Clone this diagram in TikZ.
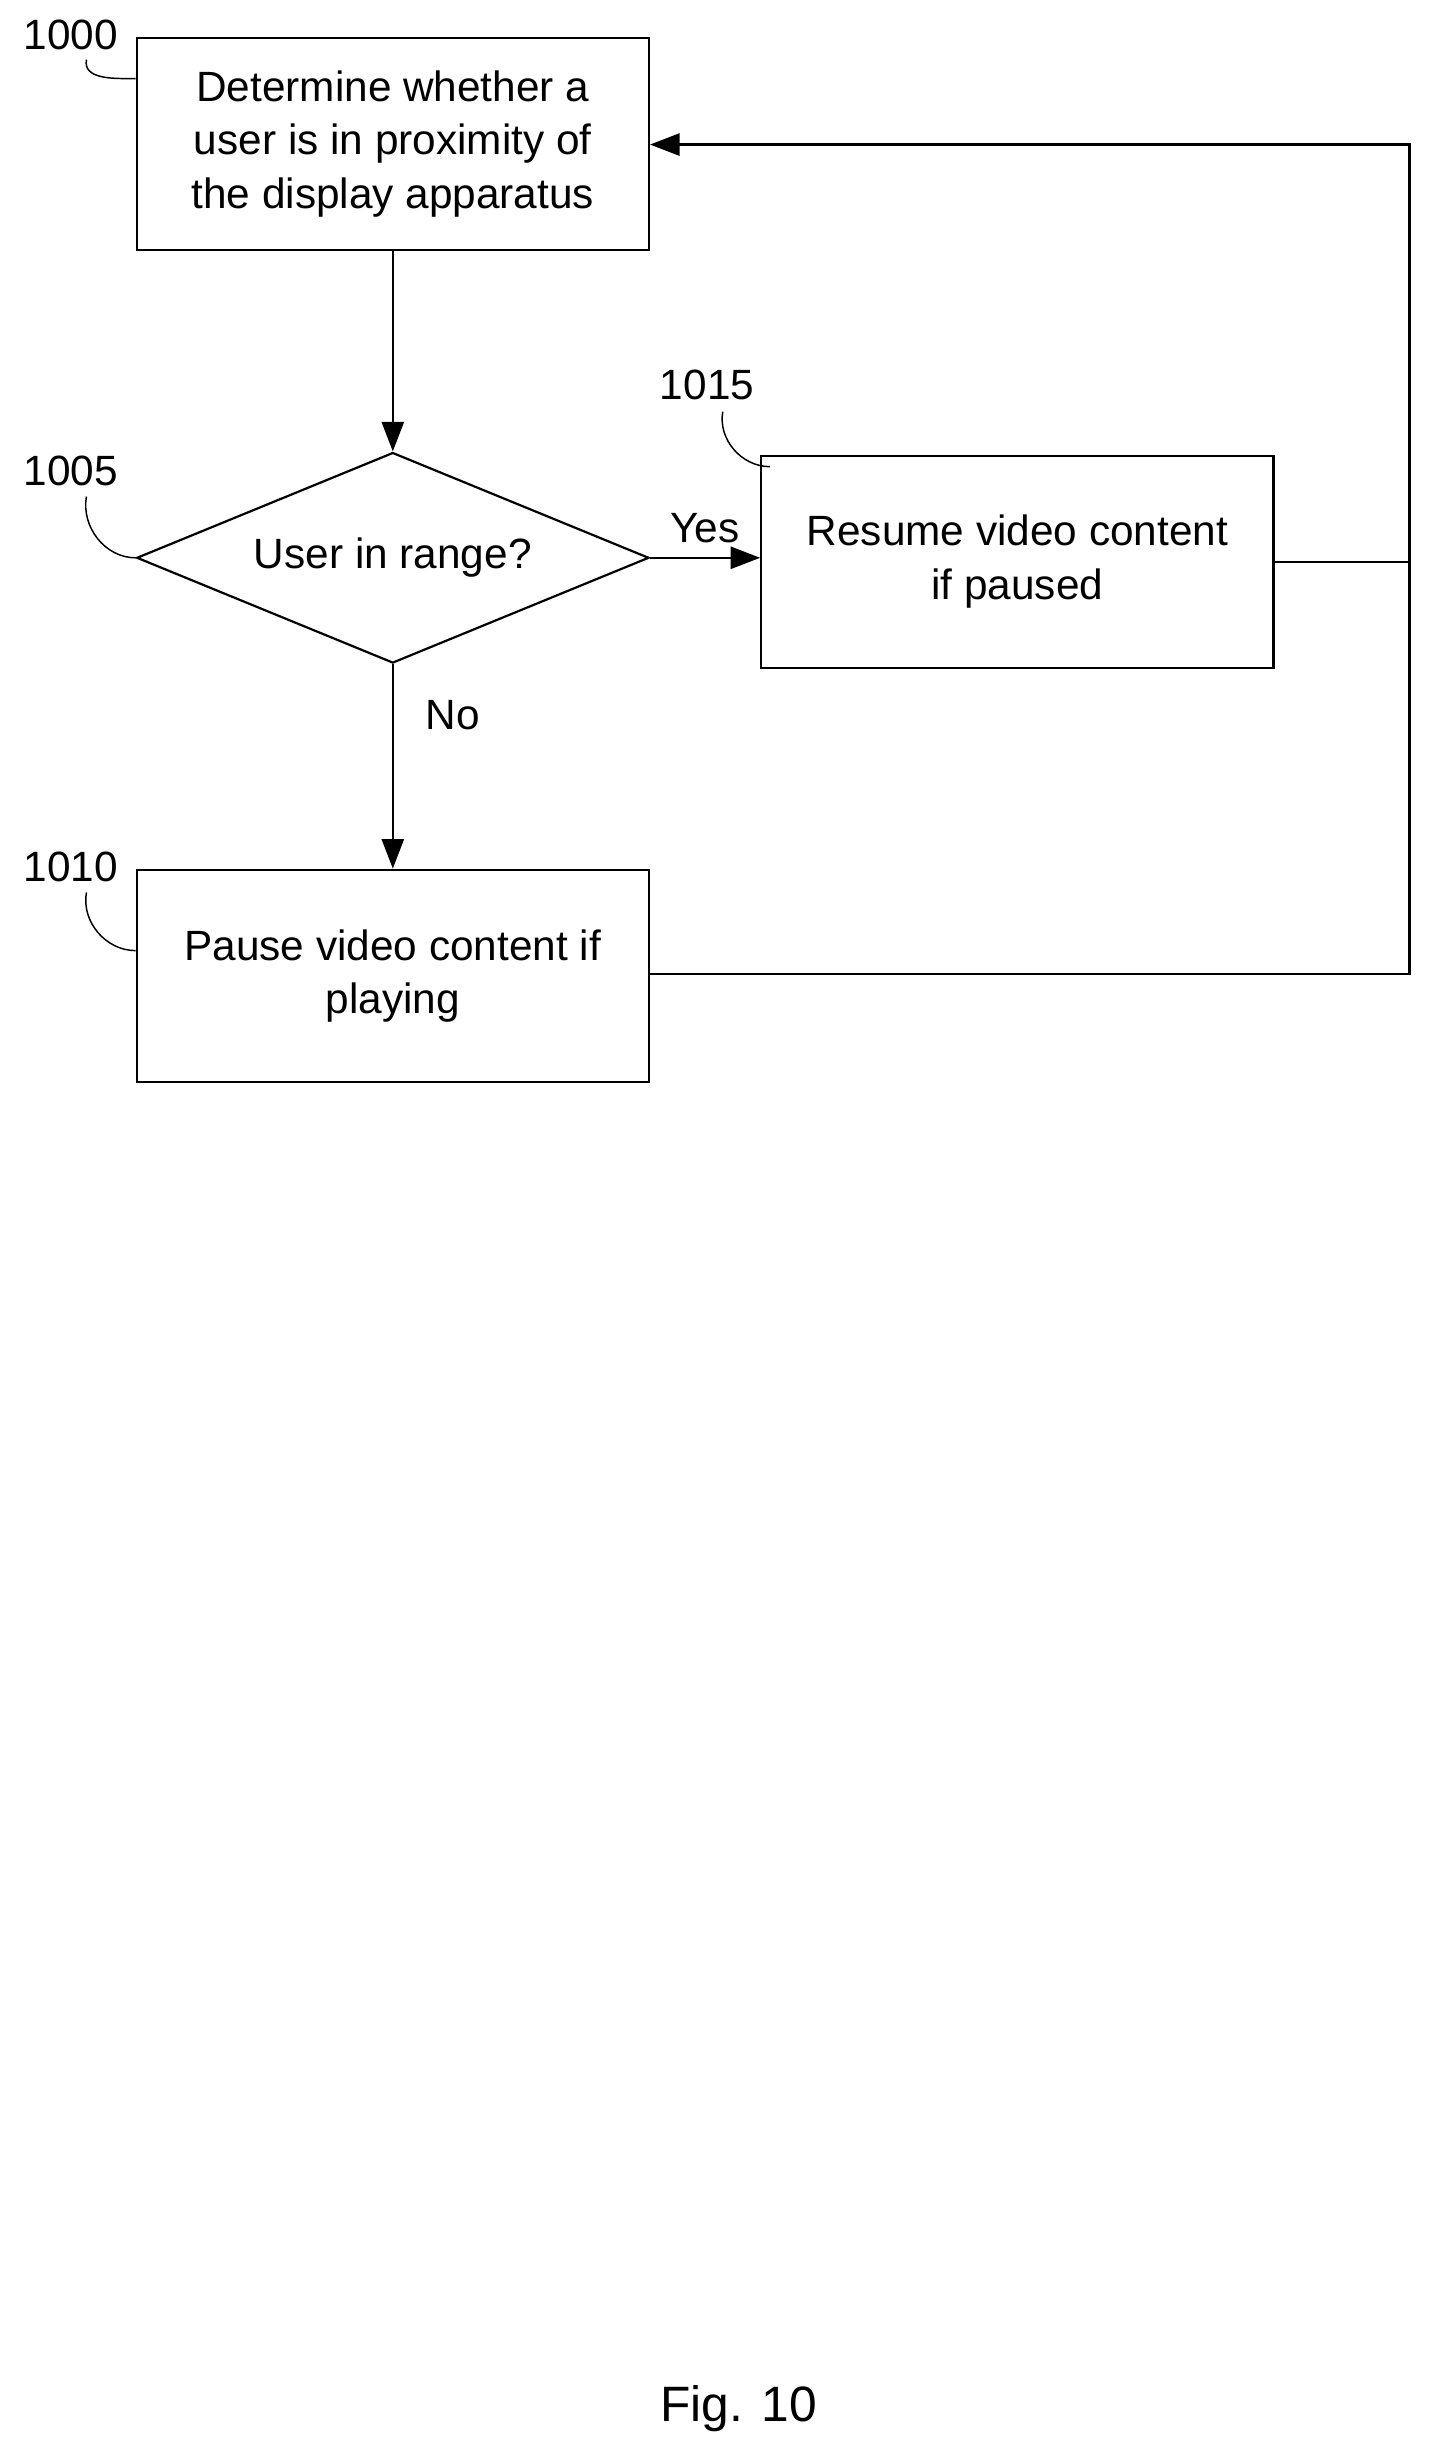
\documentclass[tikz,border=0pt]{standalone}
\usepackage{fontspec}
\setmainfont{Liberation Sans}
\usetikzlibrary{shapes.geometric,arrows.meta}
\tikzset{
  box/.style  = {draw, very thick, align=center, minimum width=9.78cm, minimum height=4.05cm, inner sep=0pt},
  flow/.style = {very thick, -{Triangle[length=16pt,width=12pt]}},
  tag/.style  = {inner sep=0pt},
}
\begin{document}
\begin{tikzpicture}[x=0.03cm, y=-0.03cm, font=\fontsize{23}{29}\selectfont]
\useasboundingbox (0,0) rectangle (910,1565);
\node[box] (n1000) at (250,91.5) {Determine whether a\\user is in proximity of\\the display apparatus};
\node[draw, very thick, diamond, aspect=2.43, minimum width=9.78cm, minimum height=4.02cm, inner sep=0pt] (n1005) at (250,355) {User in range?};
\node[box] (n1015) at (647.5,357.5) {Resume video content\\if paused};
\node[box] (n1010) at (250,621) {Pause video content if\\playing};
\node[font=\fontsize{27}{32}\selectfont] (fig) at (470,1533) {Fig. 10};

% reference numerals
\node[tag] (t1000) at (45,22) {1000};
\node[tag] (t1005) at (45,300) {1005};
\node[tag] (t1015) at (450,245) {1015};
\node[tag] (t1010) at (45,552) {1010};
\draw[thick] (55,38) to[out=-100, in=180] (n1000.west |- 0,50);
\draw[thick] (55,316) to[out=-100, in=180] (n1005.west);
\draw[thick] (460,262) to[out=-100, in=180] (490,297);
\draw[thick] (55,568) to[out=-100, in=180] (n1010.west |- 0,605);

% connectors
\coordinate (c1) at (897,357.5);
\coordinate (c2) at (897,620);
\coordinate (c3) at (897,92);
\draw[flow] (n1000) -- (n1005);
\draw[flow] (n1005.east) -- (n1015.west |- n1005.east) node[midway, above=4pt] {Yes};
\draw[flow] (n1005.south) -- (n1010.north) node[pos=0.25, right=14pt] {No};
\draw[very thick] (n1015.east) -- (c1);
\draw[flow] (n1010.east |- c2) -- (c2) -- (c3) -- (n1000.east |- c3);
\end{tikzpicture}
\end{document}
